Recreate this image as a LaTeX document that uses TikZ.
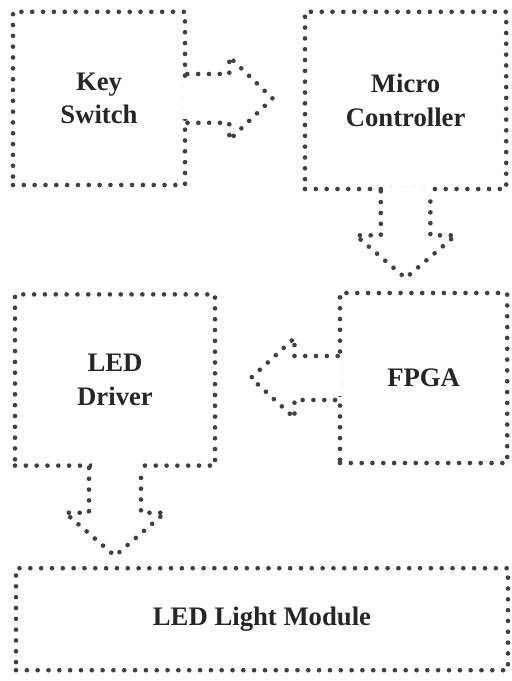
\documentclass[tikz,border=0pt]{standalone}
\usepackage{fontspec}
\setmainfont{Liberation Serif}
\usetikzlibrary{positioning,calc}

\begin{document}
\begin{tikzpicture}[
  font=\bfseries\fontsize{19}{24}\selectfont,
  dots/.style={draw=black!75, line width=3.3pt, line cap=round,
               dash pattern=on 0pt off 7.7pt},
  block/.style={rectangle, dots, align=center, inner sep=0pt, text=black!85},
  gap/.style={fill=white}
]
  \useasboundingbox (0,0) rectangle (12.8,-17.025);
  \node[block, minimum width=4.3cm, minimum height=4.33cm] (key) at (2.475,-2.46) {Key\\ Switch};
  \node[block, minimum width=5.03cm, minimum height=4.43cm] (mcu) at (10.14,-2.51) {Micro\\ Controller};
  \node[block, minimum width=4.18cm, minimum height=4.25cm] (fpga) at (10.59,-9.45) {FPGA};
  \node[block, minimum width=5.0cm, minimum height=4.28cm] (drv) at (2.875,-9.5) {LED\\ Driver};
  \node[block, minimum width=12.3cm, minimum height=2.55cm] (led) at (6.55,-15.48) {LED Light Module};
  % open the box edges where the arrows leave
  \fill[gap] ($(key.east)+(-0.12,-0.52)$) rectangle ($(key.east)+(0.12,0.52)$);
  \fill[gap] ($(mcu.south)+(-0.54,-0.12)$) rectangle ($(mcu.south)+(0.54,0.12)$);
  \fill[gap] ($(fpga.west)+(-0.12,-0.46)$) rectangle ($(fpga.west)+(0.12,0.46)$);
  \fill[gap] ($(drv.south)+(-0.57,-0.12)$) rectangle ($(drv.south)+(0.57,0.12)$);
  % block arrows
  \draw[dots] (key.east) ++(0,0.61) -- ++(1.05,0) -- ++(0,0.43) -- ++(1.08,-1.04)
    -- ++(-1.08,-1.04) -- ++(0,0.43) -- ++(-1.05,0);
  \draw[dots] (mcu.south) ++(-0.62,0) -- ++(0,-1.1) -- ++(-0.63,0) -- ++(1.25,-1.07)
    -- ++(1.25,1.07) -- ++(-0.63,0) -- ++(0,1.1);
  \draw[dots] (fpga.west) ++(0,0.55) -- ++(-1.08,0) -- ++(0,0.45) -- ++(-1.09,-1.0)
    -- ++(1.09,-1.0) -- ++(0,0.45) -- ++(1.08,0);
  \draw[dots] (drv.south) ++(-0.65,0) -- ++(0,-1.12) -- ++(-0.6,0) -- ++(1.25,-1.08)
    -- ++(1.25,1.08) -- ++(-0.6,0) -- ++(0,1.12);
\end{tikzpicture}
\end{document}
